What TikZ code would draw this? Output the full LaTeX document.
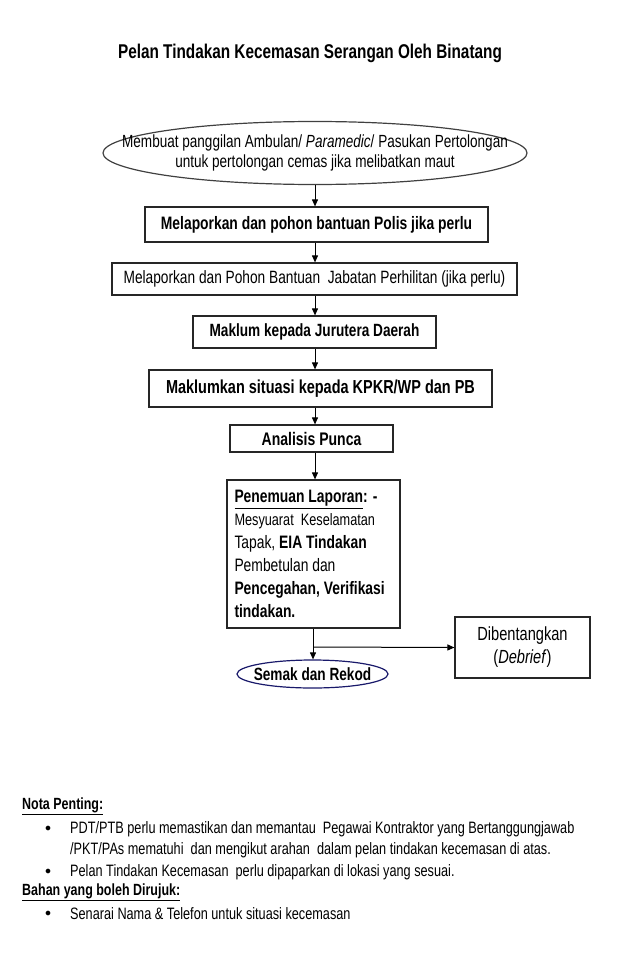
\documentclass[tikz,border=0pt]{standalone}
\usepackage{fontspec}
\setmainfont[FakeStretch=0.77]{Liberation Sans}
\usetikzlibrary{shapes.geometric,arrows.meta}
\begin{document}
\begin{tikzpicture}[x=1pt,y=-1pt,
  box/.style={draw=black!85,line width=1.2pt,fill=white,inner sep=0pt,align=center},
  oval/.style={ellipse,draw=black!75,line width=1.2pt,inner sep=0pt},
  arr/.style={line width=1pt,-{Triangle[length=7pt,width=6pt]}},
  ln/.style={line width=1pt},
  note/.style={anchor=west,inner sep=0pt,font=\fontsize{16.5}{18}\selectfont}]
\useasboundingbox (0,0) rectangle (640,963);
\node[inner sep=0pt,font=\fontsize{19.9}{22}\selectfont\bfseries] (title) at (310,53) {Pelan Tindakan Kecemasan Serangan Oleh Binatang};
\node[oval,minimum width=424,minimum height=63] (e1) at (315,153) {};
\node[inner sep=0pt,align=center,font=\fontsize{17.6}{20}\selectfont] (e1t) at (e1.center)
  {Membuat panggilan Ambulan/ \textit{Paramedic}/ Pasukan Pertolongan\\untuk pertolongan cemas jika melibatkan maut};
\node[box,minimum width=343,minimum height=35,font=\fontsize{18}{20}\selectfont\bfseries] (b2) at (316.5,224.5) {Melaporkan dan pohon bantuan Polis jika perlu};
\node[box,minimum width=405,minimum height=32,font=\fontsize{17.8}{20}\selectfont] (b3) at (314.5,279) {Melaporkan dan Pohon Bantuan \ Jabatan Perhilitan (jika perlu)};
\node[box,minimum width=243,minimum height=32,font=\fontsize{17.7}{20}\selectfont\bfseries] (b4) at (314.5,332) {Maklum kepada Jurutera Daerah};
\node[box,minimum width=343,minimum height=37,font=\fontsize{18.8}{20}\selectfont\bfseries] (b5) at (320.5,388.5) {Maklumkan situasi kepada KPKR/WP dan PB};
\node[box,minimum width=163,minimum height=27,font=\fontsize{18.2}{20}\selectfont\bfseries] (b6) at (311.5,438.5) {Analisis Punca};
\node[box,minimum width=173,minimum height=148,align=flush left,text width=158,font=\fontsize{18}{23}\selectfont] (b7) at (313.5,554)
  {\textbf{\underline{Penemuan Laporan}: -}\\
   {\fontsize{16.5}{23}\selectfont Mesyuarat \ Keselamatan}\\
   Tapak, \textbf{EIA Tindakan}\\
   Pembetulan dan\\
   \textbf{Pencegahan, Verifikasi}\\
   \textbf{tindakan.}};
\node[box,minimum width=135,minimum height=61,font=\fontsize{19}{23}\selectfont] (b8) at (522.5,647.5) {Dibentangkan\\(\textit{Debrief})};
\node[ellipse,draw=blue!35!black!90,line width=1.2pt,inner sep=0pt,minimum width=151,minimum height=28] (e2) at (312.5,674) {};
\node[inner sep=0pt,font=\fontsize{17.7}{20}\selectfont\bfseries] (e2t) at (e2.center) {Semak dan Rekod};
\draw[arr] (e1.south) -- (e1.south |- b2.north);
\draw[arr] (b2.south -| e1.south) -- (e1.south |- b3.north);
\draw[arr] (b3.south -| e1.south) -- (e1.south |- b4.north);
\draw[arr] (b4.south -| e1.south) -- (e1.south |- b5.north);
\draw[arr] (b5.south -| e1.south) -- (e1.south |- b6.north);
\draw[arr] (b6.south -| e1.south) -- (e1.south |- b7.north);
\coordinate (j) at (313,647);
\draw[ln] (b7.south -| j) -- (j);
\draw[arr] (j) -- (b8.west);
\draw[arr] (j) -- (j |- e2.north);
\node[note,font=\fontsize{16.2}{18}\selectfont\bfseries] (n1) at (22,806) {\underline{Nota Penting:}};
\node[note,font=\fontsize{13}{18}\selectfont] (d1) at (45,829) {$\bullet$};
\node[note] (t1) at (70,829) {PDT/PTB perlu memastikan dan memantau \ Pegawai Kontraktor yang Bertanggungjawab};
\node[note] (t1b) at (70,850) {/PKT/PAs mematuhi \ dan mengikut arahan \ dalam pelan tindakan kecemasan di atas.};
\node[note,font=\fontsize{13}{18}\selectfont] (d2) at (45,872) {$\bullet$};
\node[note] (t2) at (70,872) {Pelan Tindakan Kecemasan \ perlu dipaparkan di lokasi yang sesuai.};
\node[note,font=\fontsize{16.2}{18}\selectfont\bfseries] (n2) at (22,892) {\underline{Bahan yang boleh Dirujuk:}};
\node[note,font=\fontsize{13}{18}\selectfont] (d3) at (45,914) {$\bullet$};
\node[note] (t3) at (70,914) {Senarai Nama \& Telefon untuk situasi kecemasan};
\end{tikzpicture}
\end{document}
